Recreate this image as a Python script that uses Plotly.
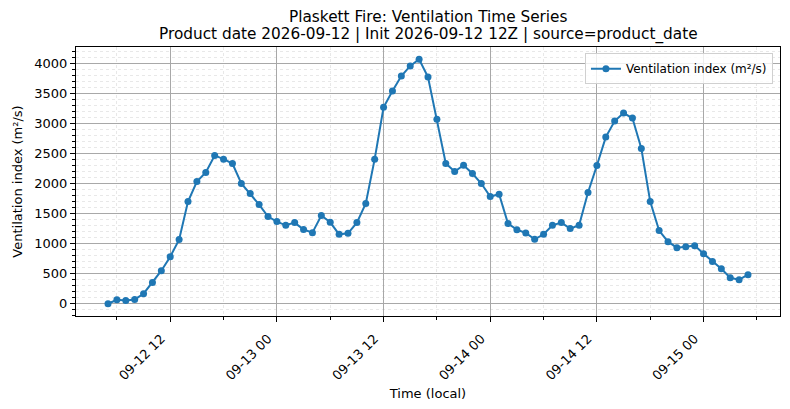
import pandas as pd
import plotly.graph_objects as go

# hourly ventilation index
start_time = "2026-09-12 05:00"
n_hours = 73
vent_index = [0, 67, 55, 72, 167, 355, 550, 783, 1067, 1700,
              2033, 2183, 2467, 2405, 2333, 2000, 1833, 1650, 1450, 1367,
              1305, 1350, 1235, 1183, 1467, 1355, 1155, 1172, 1350, 1667,
              2405, 3267, 3538, 3788, 3955, 4067, 3772, 3067, 2333, 2200,
              2305, 2167, 2000, 1783, 1822, 1333, 1233, 1177, 1072, 1155,
              1305, 1350, 1250, 1305, 1850, 2300, 2772, 3038, 3172, 3088,
              2583, 1700, 1217, 1033, 933, 950, 967, 833, 705, 583,
              433, 400, 483]
times = pd.date_range(start_time, periods=n_hours, freq="h")

title_lines = ["Plaskett Fire: Ventilation Time Series",
               "Product date 2026-09-12 | Init 2026-09-12 12Z | source=product_date"]

blue = "#1f77b4"
font = "DejaVu Sans"

fig = go.Figure()
fig.add_trace(go.Scatter(
    x=times, y=vent_index, mode="lines+markers",
    name="Ventilation index (m²/s)",
    line=dict(color=blue, width=2),
    marker=dict(color=blue, size=7),
))

# 5% padding like matplotlib autoscale
span = times[-1] - times[0]
x_range = [times[0] - span * 0.05, times[-1] + span * 0.05]
ymax = max(vent_index)
y_range = [-0.05 * ymax, ymax * 1.05]

# two title lines as annotations so their spacing matches
for line, shift in zip(title_lines, [30, 13]):
    fig.add_annotation(text=line, x=0.5, xref="paper", y=1, yref="paper",
                       xanchor="center", yanchor="middle", yshift=shift,
                       showarrow=False, font=dict(size=15.3))

fig.update_layout(
    width=790, height=409,
    margin=dict(l=75.5, r=9.5, t=47, b=93, autoexpand=False),
    paper_bgcolor="white", plot_bgcolor="white",
    font=dict(family=font, size=13, color="black"),
    showlegend=True,
    legend=dict(x=0.99, y=0.977, xanchor="right", yanchor="top",
                bgcolor="rgba(255,255,255,0.8)", bordercolor="#d0d0d0",
                borderwidth=1, font=dict(size=12),
                itemwidth=30, tracegroupgap=0),
)

fig.update_xaxes(
    range=x_range, type="date", automargin=False,
    tickformat="%m-%d %H", dtick=12 * 3600 * 1000, tick0="2026-09-12 00:00",
    tickangle=-45, ticks="outside", ticklen=5, tickcolor="black",
    ticklabelshift=-9, ticklabelstandoff=4,
    showline=True, linecolor="black", linewidth=1, mirror=True,
    showgrid=True, gridcolor="#a8a8a8", gridwidth=1,
    zeroline=False,
    minor=dict(dtick=6 * 3600 * 1000, tick0="2026-09-12 00:00", ticks="outside",
               ticklen=3, tickcolor="black", showgrid=True,
               gridcolor="#e8e8e8", griddash="dot", gridwidth=1),
    title=dict(text="Time (local)", font=dict(size=13), standoff=6),
)
fig.update_yaxes(
    range=y_range, dtick=500, tick0=0, automargin=False,
    ticks="outside", ticklen=5, tickcolor="black",
    showline=True, linecolor="black", linewidth=1, mirror=True,
    showgrid=True, gridcolor="#a8a8a8", gridwidth=1,
    zeroline=False,
    minor=dict(dtick=100, ticks="outside", ticklen=3, tickcolor="black",
               showgrid=True, gridcolor="#e8e8e8", griddash="dot", gridwidth=1),
    title=dict(text="Ventilation index (m²/s)", font=dict(size=13), standoff=8),
)

# drop the default body margin so the figure sits at the page corner
fig.write_html("out.html", config={"displayModeBar": False},
               post_script="document.body.style.margin='0';")
